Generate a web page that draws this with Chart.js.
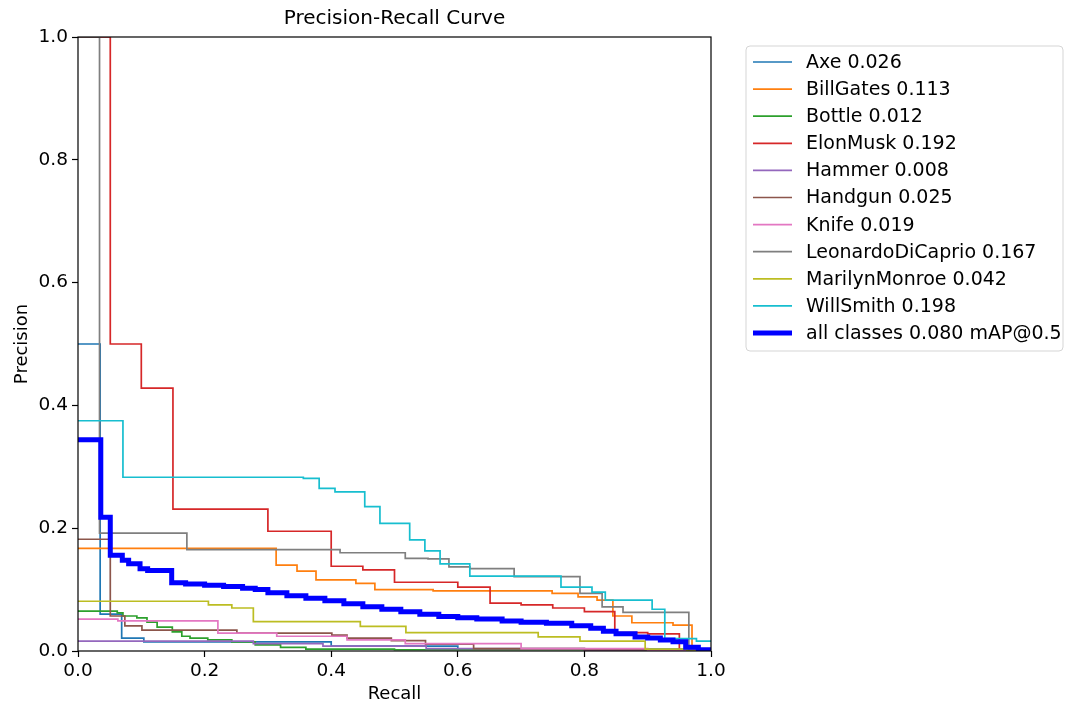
<!DOCTYPE html>
<html lang="en">
<head>
  <meta charset="UTF-8">
  <title>Precision-Recall Curve</title>
  <script src="https://cdn.jsdelivr.net/npm/chart.js"></script>
  <style>
    body { margin: 0; background: #fff; }
    canvas { display: block; }
  </style>
</head>
<body>
  <canvas id="prChart" width="1065" height="705"></canvas>

  <script>
    // [recall, precision] break points, each value holds until the next recall
    const axe = [[0, 0.5], [0.035, 0.06], [0.069, 0.021], [0.104, 0.015], [0.4, 0.008], [0.6, 0.003], [1, 0]];
    const billGates = [[0, 0.167], [0.313, 0.14], [0.346, 0.13], [0.376, 0.116], [0.439, 0.11], [0.469, 0.1],
      [0.561, 0.098], [0.749, 0.094], [0.79, 0.088], [0.82, 0.083], [0.845, 0.057], [0.875, 0.046],
      [0.94, 0.042], [0.97, 0], [1, 0]];
    const bottle = [[0, 0.065], [0.062, 0.062], [0.071, 0.057], [0.093, 0.054], [0.109, 0.047], [0.125, 0.039],
      [0.149, 0.031], [0.164, 0.024], [0.177, 0.021], [0.205, 0.018], [0.243, 0.015], [0.28, 0.01],
      [0.32, 0.006], [0.36, 0.003], [0.5, 0.002], [1, 0]];
    const elonMusk = [[0, 1.0], [0.051, 0.5], [0.1, 0.428], [0.15, 0.231], [0.3, 0.195], [0.4, 0.138],
      [0.45, 0.132], [0.5, 0.112], [0.6, 0.104], [0.651, 0.078], [0.7, 0.075], [0.75, 0.07], [0.8, 0.064],
      [0.848, 0.03], [0.9, 0.028], [0.95, 0], [1, 0]];
    const hammer = [[0, 0.016], [0.277, 0.012], [0.387, 0.008], [0.55, 0.004], [0.8, 0.001], [1, 0]];
    const handgun = [[0, 0.182], [0.051, 0.057], [0.074, 0.041], [0.101, 0.034], [0.251, 0.029], [0.401, 0.026],
      [0.425, 0.021], [0.495, 0.017], [0.549, 0.011], [0.625, 0.004], [0.8, 0.002], [1, 0]];
    const knife = [[0, 0.052], [0.063, 0.049], [0.221, 0.029], [0.314, 0.024], [0.425, 0.018], [0.517, 0.012],
      [0.7, 0.004], [0.9, 0.001], [1, 0]];
    const leonardo = [[0, 1.0], [0.034, 0.192], [0.172, 0.165], [0.414, 0.16], [0.517, 0.151], [0.553, 0.15],
      [0.586, 0.137], [0.619, 0.134], [0.689, 0.121], [0.793, 0.094], [0.828, 0.072], [0.861, 0.063],
      [0.965, 0], [1, 0]];
    const marilyn = [[0, 0.081], [0.206, 0.075], [0.243, 0.07], [0.277, 0.048], [0.446, 0.04], [0.518, 0.03],
      [0.727, 0.023], [0.793, 0.016], [0.896, 0.003], [0.962, 0], [1, 0]];
    const willSmith = [[0, 0.375], [0.071, 0.283], [0.356, 0.281], [0.381, 0.265], [0.406, 0.259], [0.453, 0.235],
      [0.477, 0.208], [0.524, 0.181], [0.548, 0.163], [0.572, 0.142], [0.619, 0.122], [0.763, 0.104],
      [0.812, 0.096], [0.833, 0.083], [0.907, 0.068], [0.927, 0.02], [0.977, 0.016], [1, 0.016]];
    const allClasses = [[0, 0.344], [0.036, 0.218], [0.051, 0.156], [0.07, 0.148], [0.08, 0.142], [0.098, 0.134],
      [0.11, 0.131], [0.148, 0.111], [0.17, 0.109], [0.2, 0.107], [0.23, 0.105], [0.26, 0.102], [0.28, 0.1],
      [0.3, 0.095], [0.33, 0.09], [0.36, 0.086], [0.39, 0.082], [0.42, 0.077], [0.45, 0.072], [0.48, 0.068],
      [0.51, 0.064], [0.54, 0.06], [0.57, 0.056], [0.6, 0.054], [0.63, 0.052], [0.67, 0.049], [0.7, 0.047],
      [0.74, 0.045], [0.78, 0.041], [0.81, 0.037], [0.83, 0.032], [0.85, 0.028], [0.88, 0.023], [0.9, 0.021],
      [0.92, 0.018], [0.94, 0.015], [0.96, 0.006], [0.98, 0.002], [1, 0]];

    const classNames = ['Axe', 'BillGates', 'Bottle', 'ElonMusk', 'Hammer', 'Handgun', 'Knife',
      'LeonardoDiCaprio', 'MarilynMonroe', 'WillSmith'];
    const classAP = [0.026, 0.113, 0.012, 0.192, 0.008, 0.025, 0.019, 0.167, 0.042, 0.198];
    const classCurves = [axe, billGates, bottle, elonMusk, hammer, handgun, knife, leonardo, marilyn, willSmith];
    const mAP = 0.080;
    const axisTicks = [0, 0.2, 0.4, 0.6, 0.8, 1.0];

    const colors = ['#1f77b4', '#ff7f0e', '#2ca02c', '#d62728', '#9467bd', '#8c564b', '#e377c2',
      '#7f7f7f', '#bcbd22', '#17becf'];
    const FONT = 'DejaVu Sans';

    const toPoints = arr => arr.map(p => ({ x: p[0], y: p[1] }));

    const datasets = classNames.map((name, i) => ({
      label: name + ' ' + classAP[i].toFixed(3),
      data: toPoints(classCurves[i]),
      borderColor: colors[i],
      borderWidth: 1.7,
      order: 11 - i
    }));
    datasets.push({
      label: 'all classes ' + mAP.toFixed(3) + ' mAP@0.5',
      data: toPoints(allClasses),
      borderColor: '#0000ff',
      borderWidth: 5,
      order: 0
    });
    datasets.forEach(d => {
      d.stepped = 'before';
      d.pointRadius = 0;
      d.fill = false;
    });

    // box round the plot and a matplotlib-like legend outside it
    const framePlugin = {
      id: 'frame',
      afterDraw(chart) {
        const { ctx, chartArea: a } = chart;
        ctx.save();
        ctx.strokeStyle = '#000';
        ctx.lineWidth = 1.2;
        ctx.strokeRect(a.left, a.top, a.right - a.left, a.bottom - a.top);

        const lx = 746, ly = 46, lw = 317, lh = 305, r = 4;
        ctx.beginPath();
        ctx.moveTo(lx + r, ly);
        ctx.arcTo(lx + lw, ly, lx + lw, ly + lh, r);
        ctx.arcTo(lx + lw, ly + lh, lx, ly + lh, r);
        ctx.arcTo(lx, ly + lh, lx, ly, r);
        ctx.arcTo(lx, ly, lx + lw, ly, r);
        ctx.closePath();
        ctx.fillStyle = 'rgba(255,255,255,0.8)';
        ctx.fill();
        ctx.strokeStyle = '#d5d5d5';
        ctx.lineWidth = 1;
        ctx.stroke();

        ctx.font = '19px "' + FONT + '"';
        ctx.textBaseline = 'middle';
        ctx.textAlign = 'left';
        chart.data.datasets.forEach((d, i) => {
          const y = 62 + i * 27.1;
          ctx.beginPath();
          ctx.moveTo(753, y);
          ctx.lineTo(792, y);
          ctx.strokeStyle = d.borderColor;
          ctx.lineWidth = d.borderWidth;
          ctx.stroke();
          ctx.fillStyle = '#000';
          ctx.fillText(d.label, 806, y + 1);
        });
        ctx.restore();
      }
    };

    const ctx = document.getElementById('prChart').getContext('2d');
    new Chart(ctx, {
      type: 'line',
      data: { datasets: datasets },
      options: {
        responsive: false,
        animation: false,
        layout: { padding: { left: 0, right: 354, top: 0, bottom: 0 } },
        plugins: {
          legend: { display: false },
          tooltip: { enabled: false },
          title: {
            display: true,
            text: 'Precision-Recall Curve',
            fullSize: false,
            color: '#000',
            font: { family: FONT, size: 20, weight: 'normal' },
            padding: { top: 7, bottom: 6 }
          }
        },
        scales: {
          x: {
            type: 'linear',
            min: 0,
            max: 1,
            afterBuildTicks: s => { s.ticks = axisTicks.map(v => ({ value: v })); },
            afterFit: s => { s.height = 54; },
            border: { display: false },
            grid: { drawOnChartArea: false, drawTicks: true, tickLength: 6, color: '#000', tickWidth: 1.2 },
            ticks: {
              color: '#000',
              padding: 3,
              maxRotation: 0,
              font: { family: FONT, size: 18.5 },
              callback: v => v.toFixed(1)
            },
            title: {
              display: true,
              text: 'Recall',
              color: '#000',
              font: { family: FONT, size: 18 },
              padding: { top: 0, bottom: 0 }
            }
          },
          y: {
            type: 'linear',
            min: 0,
            max: 1,
            afterBuildTicks: s => { s.ticks = axisTicks.map(v => ({ value: v })); },
            afterFit: s => { s.width = 78; },
            border: { display: false },
            grid: { drawOnChartArea: false, drawTicks: true, tickLength: 6, color: '#000', tickWidth: 1.2 },
            ticks: {
              color: '#000',
              padding: 4,
              font: { family: FONT, size: 18.5 },
              callback: v => v.toFixed(1)
            },
            title: {
              display: true,
              text: 'Precision',
              color: '#000',
              font: { family: FONT, size: 18 },
              padding: { top: 12, bottom: 0 }
            }
          }
        }
      },
      plugins: [framePlugin]
    });
  </script>
</body>
</html>
